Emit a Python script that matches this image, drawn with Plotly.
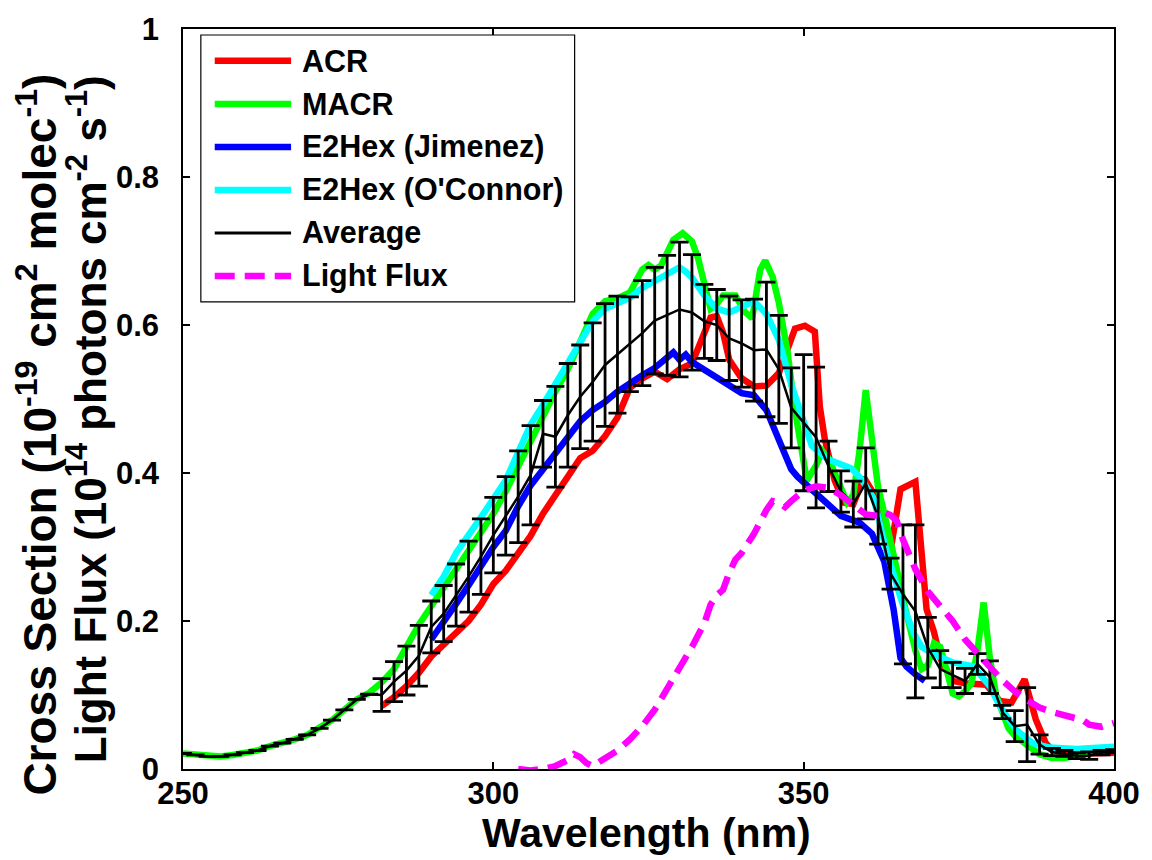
import plotly.graph_objects as go

# ---------------- data ----------------
acr_wl = [282, 284, 286, 288, 290, 292, 294, 296, 298, 300, 302, 304, 306, 308, 310, 312, 314, 316, 318,
          320, 322, 324, 326, 328, 330, 332, 334, 335, 336, 337, 338, 340, 342, 344, 346, 347.5, 348.6,
          350.2, 351.8, 352.6, 353.4, 355, 356.5, 358, 359.7, 361.8, 363, 364, 365.6, 368, 368.8, 369.8,
          371, 372, 374, 376, 379.4, 381.6, 383.5, 385.6, 387.4, 389, 390, 392, 396, 400]
acr_cs = [0.085, 0.097, 0.112, 0.130, 0.152, 0.168, 0.183, 0.200, 0.222, 0.250, 0.268, 0.290, 0.315, 0.345,
          0.370, 0.395, 0.420, 0.430, 0.450, 0.475, 0.515, 0.528, 0.537, 0.527, 0.540, 0.548, 0.590, 0.610,
          0.612, 0.590, 0.553, 0.528, 0.517, 0.518, 0.535, 0.570, 0.595, 0.599, 0.591, 0.490, 0.446, 0.390,
          0.360, 0.358, 0.394, 0.365, 0.320, 0.295, 0.378, 0.388, 0.300, 0.216, 0.185, 0.150, 0.119, 0.116,
          0.114, 0.092, 0.090, 0.121, 0.067, 0.035, 0.026, 0.022, 0.021, 0.022]

macr_wl = [250, 252, 254, 256, 258, 260, 262, 264, 266, 268, 270, 272, 274, 276, 278, 280, 282, 284, 286,
           288, 290, 292, 294, 296, 298, 300, 302, 304, 306, 308, 310, 312, 314, 316, 318, 320, 322, 324,
           325, 326, 327, 328, 329, 330.5, 332, 333, 334, 335, 336, 337, 339, 340.5, 341.7, 343, 343.8, 345,
           346, 347.4, 348.5, 349.7, 350.5, 352, 353, 354, 355, 356, 357, 358, 359, 360, 361, 362, 363, 364,
           365, 366, 367, 368, 369, 370, 371, 372, 373, 374, 375, 376, 377, 378, 379, 380, 381, 382, 383,
           384, 386, 388, 390, 392, 394, 396, 398, 400]
macr_cs = [0.021, 0.019, 0.017, 0.017, 0.019, 0.022, 0.025, 0.031, 0.035, 0.040, 0.046, 0.055, 0.066, 0.080,
           0.094, 0.103, 0.117, 0.135, 0.165, 0.195, 0.220, 0.245, 0.270, 0.295, 0.320, 0.345, 0.375, 0.410,
           0.445, 0.475, 0.510, 0.540, 0.575, 0.615, 0.632, 0.636, 0.644, 0.675, 0.681, 0.675, 0.680, 0.700,
           0.715, 0.724, 0.713, 0.690, 0.655, 0.622, 0.628, 0.640, 0.640, 0.618, 0.609, 0.675, 0.687, 0.665,
           0.630, 0.564, 0.490, 0.428, 0.390, 0.410, 0.430, 0.420, 0.400, 0.375, 0.360, 0.370, 0.430, 0.512,
           0.440, 0.380, 0.345, 0.310, 0.270, 0.230, 0.190, 0.160, 0.135, 0.140, 0.170, 0.165, 0.135, 0.102,
           0.098, 0.105, 0.115, 0.160, 0.225, 0.150, 0.100, 0.075, 0.055, 0.045, 0.033, 0.020, 0.015, 0.015,
           0.018, 0.022, 0.024, 0.025]

jim_wl = [290, 292, 294, 296, 298, 300, 302, 304, 306, 308, 310, 312, 314, 316, 318, 320, 322, 324, 326, 328,
          329, 330, 331, 332, 334, 336, 338, 340, 342, 344, 346, 348, 349, 351, 353, 356, 359, 361, 363, 364.5,
          365.6, 366.6, 368, 369.5]
jim_cs = [0.175, 0.198, 0.223, 0.248, 0.275, 0.300, 0.322, 0.355, 0.383, 0.405, 0.426, 0.450, 0.470, 0.485,
          0.496, 0.510, 0.522, 0.532, 0.542, 0.555, 0.563, 0.553, 0.560, 0.550, 0.540, 0.528, 0.518, 0.508,
          0.505, 0.485, 0.445, 0.405, 0.395, 0.380, 0.365, 0.342, 0.333, 0.318, 0.280, 0.215, 0.150, 0.138,
          0.128, 0.119]

oco_wl = [290, 292, 294, 296, 298, 300, 302, 304, 306, 308, 310, 312, 314, 316, 318, 320, 322, 324, 326, 328,
          330, 331, 332, 334, 336, 338, 340, 342, 344, 346, 348, 349.7, 351.3, 353.8, 357.7, 359.3, 361.3,
          363.4, 365.7, 367.7, 369, 371, 374, 377.3, 380, 381.6, 384.2, 386.9, 389.6, 394, 400]
oco_cs = [0.235, 0.260, 0.292, 0.318, 0.340, 0.365, 0.390, 0.428, 0.465, 0.492, 0.520, 0.548, 0.575, 0.605,
          0.622, 0.630, 0.637, 0.650, 0.660, 0.668, 0.678, 0.672, 0.664, 0.640, 0.622, 0.617, 0.625, 0.632,
          0.615, 0.580, 0.520, 0.478, 0.437, 0.419, 0.406, 0.392, 0.365, 0.293, 0.229, 0.184, 0.165, 0.155,
          0.144, 0.139, 0.112, 0.085, 0.053, 0.035, 0.029, 0.027, 0.030]

avg_wl = list(range(250, 401, 2))
avg_cs = [0.021, 0.019, 0.017, 0.017, 0.019, 0.022, 0.025, 0.031, 0.035, 0.040, 0.046, 0.055, 0.066, 0.080,
          0.094, 0.101, 0.100, 0.118, 0.133, 0.153, 0.192, 0.210, 0.235, 0.260, 0.287, 0.316, 0.342, 0.368,
          0.397, 0.453, 0.449, 0.478, 0.503, 0.523, 0.546, 0.560, 0.574, 0.589, 0.606, 0.613, 0.621, 0.617,
          0.605, 0.600, 0.582, 0.575, 0.566, 0.567, 0.540, 0.488, 0.468, 0.448, 0.409, 0.375, 0.358, 0.386,
          0.340, 0.264, 0.236, 0.213, 0.164, 0.135, 0.127, 0.119, 0.142, 0.124, 0.077, 0.058, 0.060, 0.033,
          0.023, 0.021, 0.018, 0.018, 0.022, 0.024]
avg_err = [0.0, 0.0, 0.0, 0.0, 0.0, 0.0, 0.0, 0.0, 0.0, 0.0, 0.0, 0.0, 0.0, 0.0, 0.0, 0.0,
           0.022, 0.027, 0.033, 0.041, 0.035, 0.038, 0.042, 0.048, 0.051, 0.051, 0.053, 0.062, 0.067, 0.045,
           0.068, 0.070, 0.070, 0.080, 0.083, 0.079, 0.064, 0.071, 0.072, 0.081, 0.091, 0.078, 0.050, 0.048,
           0.057, 0.059, 0.069, 0.091, 0.073, 0.054, 0.092, 0.095, 0.034, 0.028, 0.031, 0.048, 0.036, 0.021,
           0.094, 0.117, 0.041, 0.025, 0.017, 0.017, 0.014, 0.022, 0.009, 0.021, 0.050, 0.013, 0.005, 0.004,
           0.004, 0.005, 0.003, 0.002]

flux_wl = [304, 306, 308, 310, 312, 313, 314, 315, 316, 318, 320, 322, 324, 326, 328, 330, 332, 334, 335, 336,
           337, 338, 339, 340, 342, 344, 345, 346, 347, 348, 350, 352, 354, 356, 358, 360, 362, 363, 364, 365,
           366, 368, 370, 372, 374, 376, 378, 380, 382, 384, 386, 388, 390, 392, 393, 395, 396, 398, 400]
flux = [0.000, -0.002, 0.000, 0.004, 0.012, 0.020, 0.016, 0.008, 0.004, 0.015, 0.025, 0.040, 0.058, 0.080,
        0.108, 0.138, 0.165, 0.197, 0.222, 0.235, 0.242, 0.265, 0.283, 0.292, 0.318, 0.350, 0.362, 0.360,
        0.354, 0.362, 0.376, 0.382, 0.380, 0.370, 0.356, 0.344, 0.342, 0.347, 0.343, 0.335, 0.310, 0.270,
        0.240, 0.220, 0.200, 0.175, 0.155, 0.138, 0.120, 0.105, 0.093, 0.083, 0.077, 0.073, 0.071, 0.066,
        0.060, 0.057, 0.062]

x_ticks = [250, 300, 350, 400]
legend_names = ["ACR", "MACR", "E2Hex (Jimenez)", "E2Hex (O'Connor)", "Average", "Light Flux"]
x_title = "Wavelength (nm)"
y_title_1 = "Cross Section (10<sup>-19</sup> cm<sup>2</sup> molec<sup>-1</sup>)"
y_title_2 = "Light Flux (10<sup>14</sup> photons cm<sup>-2</sup> s<sup>-1</sup>)"

# ---------------- styling ----------------
FONT = "Liberation Sans, Arial, Helvetica, sans-serif"
RED, GREEN, BLUE, CYAN, MAG = "#ff0000", "#00ff00", "#0000ff", "#00ffff", "#ff00ff"
FLUX_DASH = "20px,10px"
LW = 6.5

fig = go.Figure()
fig.add_trace(go.Scatter(x=acr_wl, y=acr_cs, mode="lines", name=legend_names[0],
                         line=dict(color=RED, width=LW), showlegend=False))
fig.add_trace(go.Scatter(x=macr_wl, y=macr_cs, mode="lines", name=legend_names[1],
                         line=dict(color=GREEN, width=LW), showlegend=False))
fig.add_trace(go.Scatter(x=jim_wl, y=jim_cs, mode="lines", name=legend_names[2],
                         line=dict(color=BLUE, width=LW), showlegend=False))
fig.add_trace(go.Scatter(x=oco_wl, y=oco_cs, mode="lines", name=legend_names[3],
                         line=dict(color=CYAN, width=LW), showlegend=False))
fig.add_trace(go.Scatter(x=avg_wl, y=avg_cs, mode="lines", name=legend_names[4],
                         line=dict(color="black", width=2.5),
                         error_y=dict(type="data", array=avg_err, visible=True,
                                      color="black", thickness=2.8, width=9),
                         showlegend=False))
fig.add_trace(go.Scatter(x=flux_wl, y=flux, mode="lines", name=legend_names[5],
                         line=dict(color=MAG, width=LW, dash=FLUX_DASH), showlegend=False))

# ---------------- hand-drawn legend box (MATLAB style) ----------------
plot_left, plot_right, plot_top, plot_bottom = 183, 1122, 26, 769
pw, ph = plot_right - plot_left, plot_bottom - plot_top


def px2paper_x(px):
    return (px - plot_left) / pw


def py2paper_y(py):
    return (plot_bottom - py) / ph


shapes = [dict(type="rect", xref="paper", yref="paper",
               x0=px2paper_x(201), x1=px2paper_x(578), y0=py2paper_y(300), y1=py2paper_y(32),
               line=dict(color="black", width=1.2), fillcolor="white", layer="above")]
annotations = []
legend_styles = [(RED, 6.5, "solid"), (GREEN, 6.5, "solid"), (BLUE, 6.5, "solid"), (CYAN, 6.5, "solid"),
                 ("black", 3, "solid"), (MAG, 6.5, FLUX_DASH)]
for i, (name, (col, w, dash)) in enumerate(zip(legend_names, legend_styles)):
    yy = py2paper_y(58 + 43.2 * i)
    shapes.append(dict(type="line", xref="paper", yref="paper",
                       x0=px2paper_x(215), x1=px2paper_x(292), y0=yy, y1=yy,
                       line=dict(color=col, width=w, dash=dash), layer="above"))
    annotations.append(dict(xref="paper", yref="paper", x=px2paper_x(301), y=yy,
                            text=name, showarrow=False, xanchor="left", yanchor="middle",
                            font=dict(family=FONT, size=30.5, color="black", weight="bold")))

# axis titles placed like the MATLAB labels
annotations.append(dict(xref="paper", yref="paper", x=px2paper_x(650), y=py2paper_y(808),
                        text=x_title, showarrow=False, xanchor="center", yanchor="top",
                        font=dict(family=FONT, size=41, color="black", weight="bold")))
annotations.append(dict(xref="paper", yref="paper", x=px2paper_x(36), y=py2paper_y(433),
                        text=y_title_1, showarrow=False, textangle=-90,
                        xanchor="center", yanchor="middle",
                        font=dict(family=FONT, size=46, color="black", weight="bold")))
annotations.append(dict(xref="paper", yref="paper", x=px2paper_x(86), y=py2paper_y(418),
                        text=y_title_2, showarrow=False, textangle=-90,
                        xanchor="center", yanchor="middle",
                        font=dict(family=FONT, size=44, color="black", weight="bold")))

axis_common = dict(showline=True, linecolor="black", linewidth=1.5, mirror="ticks",
                   ticks="inside", ticklen=7, tickwidth=1.5, tickcolor="black",
                   showgrid=False, zeroline=False,
                   tickfont=dict(family=FONT, size=31, color="black", weight="bold"))

fig.update_layout(
    width=1152, height=860, autosize=False,
    margin=dict(l=plot_left, r=1152 - plot_right, t=plot_top, b=860 - plot_bottom),
    plot_bgcolor="white", paper_bgcolor="white",
    shapes=shapes, annotations=annotations, showlegend=False,
    xaxis=dict(range=[250, 400], tickvals=x_ticks, ticklabelstandoff=-4, **axis_common),
    yaxis=dict(range=[0, 1], dtick=0.2, tick0=0, ticklabelstandoff=16, **axis_common),
)

fig.write_html(
    "out.html",
    config={"displayModeBar": False},
    post_script=("document.documentElement.style.margin='0';"
                 "document.body.style.margin='0';"
                 "document.documentElement.style.overflow='hidden';"
                 "document.body.style.overflow='hidden';"
                 "var gd=document.getElementById('{plot_id}'); gd.style.overflow='hidden';"),
)
